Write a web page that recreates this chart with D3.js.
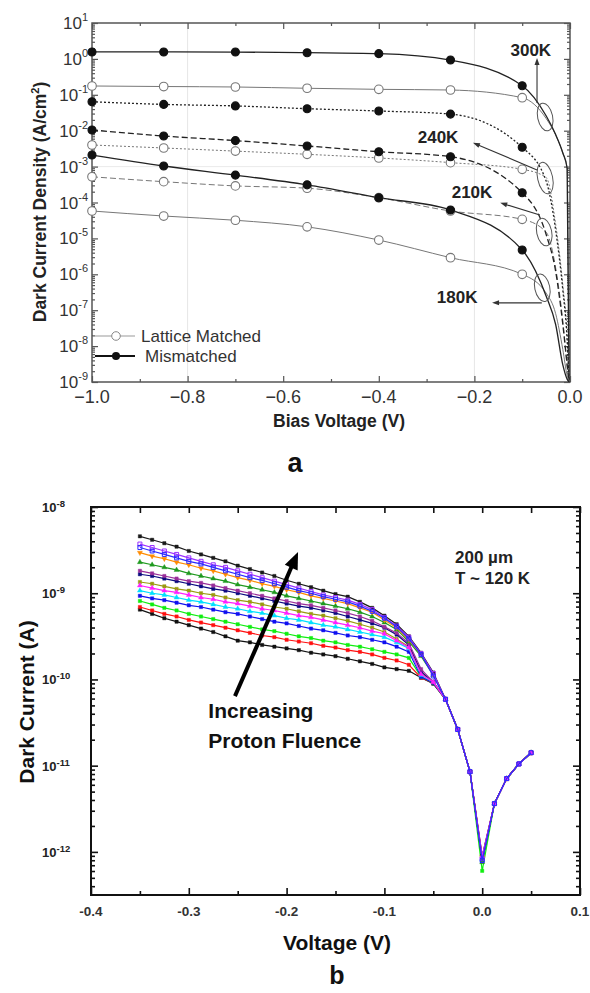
<!DOCTYPE html>
<html>
<head>
<meta charset="utf-8">
<script src="https://cdn.jsdelivr.net/npm/d3@7"></script>
<style>
  body { margin: 0; background: #fff; }
  svg { display: block; }
  text { font-family: Arial, "Liberation Sans", sans-serif; }
</style>
</head>
<body>
<div id="chart"></div>
<script>
// ---------------- panel a data ----------------
const biasMarks = [-1.0, -0.85, -0.7, -0.55, -0.4, -0.25, -0.1];
const biasTail = [-0.05, -0.03, -0.015, -0.006, -0.002];

const lm300 = [0.176, 0.170, 0.165, 0.152, 0.142, 0.136, 0.083];
const lm300Tail = [0.022, 0.0076, 0.0024, 9e-4, 1e-9];
const mm300 = [1.56, 1.56, 1.55, 1.49, 1.40, 0.93, 0.179];
const mm300Tail = [0.026, 0.0078, 0.0024, 9e-4, 1e-9];
const lm240 = [0.0040, 0.0033, 0.0027, 0.0022, 0.00174, 0.00129, 0.00084];
const lm240Tail = [5e-4, 2.5e-5, 5e-7, 2e-8, 1e-9];
const mm240 = [0.064, 0.054, 0.049, 0.041, 0.0354, 0.029, 0.00345];
const mm240Tail = [4e-4, 1.7e-5, 3.6e-7, 1.5e-8, 1e-9];
const lm210 = [5.2e-4, 3.8e-4, 2.9e-4, 2.5e-4, 1.36e-4, 5.8e-5, 3.4e-5];
const lm210Tail = [1.5e-5, 1.5e-6, 5e-8, 3e-9, 1e-9];
const mm210 = [0.0105, 0.0071, 0.0053, 0.00375, 0.0026, 0.00189, 1.87e-4];
const mm210Tail = [1.3e-5, 1.2e-6, 4e-8, 3e-9, 1e-9];
const lm180 = [5.8e-5, 4.2e-5, 3.2e-5, 2.1e-5, 9.0e-6, 2.9e-6, 1.0e-6];
const lm180Tail = [3e-7, 8e-8, 8e-9, 1.5e-9, 1e-9];
const mm180 = [0.0021, 0.00104, 5.8e-4, 3.1e-4, 1.36e-4, 6.2e-5, 4.75e-6];
const mm180Tail = [2.5e-7, 4e-8, 3e-9, 1.2e-9, 1e-9];

const tempLabels = ["300K", "240K", "210K", "180K"];
const tempLabelPos = [[-0.082, 1.77], [-0.276, 0.0067], [-0.205, 1.95e-4], [-0.236, 2.3e-7]];
const ellipsePos = [[-0.052, 0.024], [-0.052, 4.8e-4], [-0.054, 1.5e-5], [-0.058, 4.2e-7]];
const arrowFrom = [[-0.069, 0.059], [-0.069, 8.1e-4], [-0.063, 4.5e-5], [-0.059, 1.6e-7]];
const arrowTo = [[-0.069, 1.06], [-0.203, 0.0046], [-0.146, 9.8e-5], [-0.163, 1.6e-7]];
const decadesA = [1e-9, 1e-8, 1e-7, 1e-6, 1e-5, 1e-4, 1e-3, 1e-2, 1e-1, 1, 10];
const expA = ["-9", "-8", "-7", "-6", "-5", "-4", "-3", "-2", "-1", "0", "1"];
const xTicksA = [-1.0, -0.8, -0.6, -0.4, -0.2, 0.0];

// ---------------- panel b data (log10 of current, A) ----------------
const voltHead = [-0.35, -0.3375, -0.325, -0.3125, -0.3, -0.2875, -0.275, -0.2625, -0.25, -0.2375, -0.225, -0.2125,
  -0.2, -0.1875, -0.175, -0.1625, -0.15, -0.1375, -0.125, -0.1125, -0.1, -0.0875, -0.075, -0.0625, -0.05];
const s1 = [-8.34,-8.38,-8.42,-8.46,-8.51,-8.55,-8.59,-8.63,-8.68,-8.72,-8.76,-8.80,-8.85,-8.89,-8.93,-8.97,-9.01,-9.04,-9.10,-9.17,-9.26,-9.36,-9.50,-9.69,-9.92];
const s2 = [-8.43,-8.47,-8.51,-8.55,-8.59,-8.63,-8.67,-8.70,-8.74,-8.78,-8.82,-8.86,-8.90,-8.94,-8.98,-9.02,-9.05,-9.08,-9.13,-9.19,-9.28,-9.38,-9.51,-9.70,-9.93];
const s3 = [-8.47,-8.51,-8.55,-8.59,-8.63,-8.66,-8.70,-8.74,-8.78,-8.82,-8.85,-8.89,-8.93,-8.97,-9.00,-9.04,-9.07,-9.10,-9.15,-9.21,-9.29,-9.39,-9.53,-9.71,-9.96];
const s4 = [-8.53,-8.57,-8.60,-8.64,-8.67,-8.71,-8.74,-8.78,-8.82,-8.85,-8.89,-8.92,-8.96,-8.99,-9.03,-9.06,-9.09,-9.12,-9.17,-9.22,-9.31,-9.40,-9.54,-9.71,-9.94];
const s5 = [-8.64,-8.67,-8.70,-8.73,-8.77,-8.80,-8.83,-8.86,-8.90,-8.93,-8.96,-8.99,-9.03,-9.06,-9.09,-9.12,-9.15,-9.18,-9.22,-9.27,-9.34,-9.42,-9.56,-9.73,-9.95];
const s6 = [-8.74,-8.77,-8.80,-8.83,-8.86,-8.88,-8.91,-8.94,-8.97,-9.00,-9.03,-9.06,-9.09,-9.12,-9.14,-9.17,-9.20,-9.23,-9.27,-9.32,-9.39,-9.46,-9.58,-9.88,-10.03];
const s7 = [-8.78,-8.80,-8.83,-8.86,-8.89,-8.92,-8.95,-8.97,-9.00,-9.03,-9.06,-9.09,-9.12,-9.15,-9.17,-9.20,-9.23,-9.27,-9.31,-9.35,-9.40,-9.48,-9.60,-9.91,-10.03];
const s8 = [-8.87,-8.89,-8.92,-8.95,-8.97,-9.00,-9.02,-9.05,-9.08,-9.10,-9.13,-9.16,-9.18,-9.21,-9.24,-9.26,-9.29,-9.32,-9.36,-9.40,-9.45,-9.53,-9.62,-9.93,-10.03];
const s9 = [-8.91,-8.94,-8.97,-8.99,-9.02,-9.05,-9.07,-9.10,-9.12,-9.15,-9.18,-9.20,-9.23,-9.26,-9.28,-9.31,-9.34,-9.37,-9.40,-9.44,-9.47,-9.55,-9.63,-9.94,-10.03];
const s10 = [-8.97,-9.00,-9.02,-9.05,-9.08,-9.10,-9.13,-9.16,-9.18,-9.21,-9.23,-9.26,-9.29,-9.31,-9.34,-9.37,-9.39,-9.42,-9.45,-9.48,-9.51,-9.57,-9.64,-9.95,-10.03];
const s11 = [-9.03,-9.06,-9.08,-9.11,-9.14,-9.16,-9.19,-9.22,-9.24,-9.27,-9.30,-9.33,-9.35,-9.38,-9.41,-9.43,-9.46,-9.49,-9.51,-9.54,-9.57,-9.62,-9.68,-9.97,-10.04];
const s12 = [-9.09,-9.13,-9.17,-9.20,-9.24,-9.27,-9.30,-9.33,-9.36,-9.39,-9.42,-9.44,-9.47,-9.50,-9.52,-9.55,-9.57,-9.60,-9.62,-9.65,-9.68,-9.71,-9.75,-9.97,-10.04];
const s13 = [-9.16,-9.20,-9.24,-9.27,-9.31,-9.34,-9.37,-9.40,-9.43,-9.46,-9.49,-9.51,-9.54,-9.56,-9.58,-9.61,-9.63,-9.66,-9.68,-9.71,-9.75,-9.78,-9.83,-9.98,-10.04];
const s14 = [-9.19,-9.24,-9.29,-9.33,-9.37,-9.41,-9.45,-9.50,-9.55,-9.57,-9.60,-9.62,-9.64,-9.66,-9.69,-9.71,-9.73,-9.76,-9.79,-9.82,-9.86,-9.88,-9.90,-9.98,-10.05];
const voltTail = [-0.0375, -0.025, -0.0125, 0.0, 0.0125, 0.025, 0.0375, 0.05];
const tailLog = [-10.23, -10.58, -11.07, null, -11.44, -11.15, -10.98, -10.85];
const zeroLog = [-12.05, -12.08, -12.10, -12.06, -12.12, -12.08, -12.10, -12.07, -12.05, -12.09, -12.11, -12.22, -12.10, -12.08];
const decadesB = [1e-12, 1e-11, 1e-10, 1e-9, 1e-8];
const expB = ["-12", "-11", "-10", "-9", "-8"];
const xTicksB = [-0.4, -0.3, -0.2, -0.1, 0.0, 0.1];
const xLabelsB = ["-0.4", "-0.3", "-0.2", "-0.1", "0.0", "0.1"];
const fluenceArrow = [[-0.2528, 6.4e-11], [-0.1883, 3.0e-9]];

const fluenceColors = ["#1a1a1a", "#9b30ff", "#2b2bff", "#ff8c00", "#1f9a1f", "#9a2f9a", "#0a0a80",
  "#9a9a10", "#ff20ff", "#00e0ff", "#1010f0", "#10ee10", "#ff1010", "#111111"];
const fluenceMarkers = ["square", "open", "open", "triDown", "tri", "square", "square",
  "square", "tri", "tri", "square", "square", "square", "square"];
const drawOrder = [13, 12, 11, 10, 9, 7, 6, 5, 4, 3, 0, 8, 1, 2];

// ---------------- svg ----------------
const svg = d3.select("#chart").append("svg").attr("width", 590).attr("height", 993);
const defs = svg.append("defs");

function minorLog(lo, hi) {
  const t = [];
  for (let e = lo; e < hi; e++) for (let m = 2; m < 10; m++) t.push(m * Math.pow(10, e));
  return t;
}

function arrow(g, x1, y1, x2, y2, w, hl, hw, color) {
  const dx = x2 - x1, dy = y2 - y1, L = Math.hypot(dx, dy), ux = dx / L, uy = dy / L;
  g.append("line").attr("x1", x1).attr("y1", y1)
    .attr("x2", x2 - ux * hl * 0.8).attr("y2", y2 - uy * hl * 0.8)
    .attr("stroke", color).attr("stroke-width", w);
  const bx = x2 - ux * hl, by = y2 - uy * hl;
  g.append("path")
    .attr("d", `M${x2},${y2}L${bx - uy * hw / 2},${by + ux * hw / 2}L${bx + uy * hw / 2},${by - ux * hw / 2}Z`)
    .attr("fill", color);
}

// ================= PANEL A =================
const xa = d3.scaleLinear().domain([-1, 0]).range([92, 570]);
const ya = d3.scaleLog().domain([1e-9, 10]).range([382, 23]);
const ga = svg.append("g");

defs.append("clipPath").attr("id", "clipA").append("rect")
  .attr("x", 92).attr("y", 23).attr("width", 478).attr("height", 359);

// faint grid
ga.selectAll(".gv").data([-0.8, -0.2]).join("line")
  .attr("x1", d => xa(d)).attr("x2", d => xa(d)).attr("y1", 23).attr("y2", 382)
  .attr("stroke", "#e6e6e6").attr("stroke-width", 1);
ga.append("line").attr("x1", 92).attr("x2", 570).attr("y1", ya(1e-3)).attr("y2", ya(1e-3))
  .attr("stroke", "#eaeaea").attr("stroke-width", 1);

// axes
const axCol = "#555";
function styleAxis(sel) {
  sel.select(".domain").remove();
  sel.selectAll("line").attr("stroke", axCol).attr("stroke-width", 1.2);
}
ga.append("g").attr("transform", "translate(0,382)")
  .call(d3.axisBottom(xa).tickValues(xTicksA).tickSize(-6).tickFormat("")).call(styleAxis);
ga.append("g").attr("transform", "translate(0,382)")
  .call(d3.axisBottom(xa).tickValues([-0.9, -0.7, -0.5, -0.3, -0.1]).tickSize(-3).tickFormat("")).call(styleAxis);
ga.append("g").attr("transform", "translate(0,23)")
  .call(d3.axisTop(xa).tickValues(xTicksA).tickSize(-6).tickFormat("")).call(styleAxis);
ga.append("g").attr("transform", "translate(0,23)")
  .call(d3.axisTop(xa).tickValues([-0.9, -0.7, -0.5, -0.3, -0.1]).tickSize(-3).tickFormat("")).call(styleAxis);
ga.append("g").attr("transform", "translate(92,0)")
  .call(d3.axisLeft(ya).tickValues(decadesA).tickSize(-6).tickFormat("")).call(styleAxis);
ga.append("g").attr("transform", "translate(92,0)")
  .call(d3.axisLeft(ya).tickValues(minorLog(-9, 1)).tickSize(-3).tickFormat("")).call(styleAxis);
ga.append("g").attr("transform", "translate(570,0)")
  .call(d3.axisRight(ya).tickValues(decadesA).tickSize(-6).tickFormat("")).call(styleAxis);
ga.append("g").attr("transform", "translate(570,0)")
  .call(d3.axisRight(ya).tickValues(minorLog(-9, 1)).tickSize(-3).tickFormat("")).call(styleAxis);
ga.append("rect").attr("x", 92).attr("y", 23).attr("width", 478).attr("height", 359)
  .attr("fill", "none").attr("stroke", axCol).attr("stroke-width", 1.5);

// tick labels
decadesA.forEach((d, i) => {
  const t = ga.append("text").attr("x", 88).attr("y", ya(d) + 6)
    .attr("text-anchor", "end").attr("fill", "#333").attr("font-size", 17);
  t.append("tspan").text("10");
  t.append("tspan").attr("dy", -8).attr("font-size", 11).text(expA[i]);
});
ga.selectAll(".xl").data(xTicksA).join("text")
  .attr("x", d => xa(d)).attr("y", 403).attr("text-anchor", "middle")
  .attr("fill", "#333").attr("font-size", 18).text(d3.format(".1f"));

ga.append("text").attr("x", 339).attr("y", 427).attr("text-anchor", "middle")
  .attr("font-size", 17.5).attr("font-weight", "bold").attr("fill", "#222").text("Bias Voltage (V)");
const yl = ga.append("text").attr("transform", "translate(46,202) rotate(-90)").attr("text-anchor", "middle")
  .attr("font-size", 17.5).attr("font-weight", "bold").attr("fill", "#222");
yl.append("tspan").text("Dark Current Density (A/cm");
yl.append("tspan").attr("dy", -7).attr("font-size", 11).text("2");
yl.append("tspan").attr("dy", 7).text(")");
ga.append("text").attr("x", 295).attr("y", 472).attr("text-anchor", "middle")
  .attr("font-size", 27).attr("font-weight", "bold").attr("fill", "#111").text("a");

// series
const seriesA = [
  { temp: "300K", lattice: true, marks: lm300, tail: lm300Tail },
  { temp: "300K", lattice: false, marks: mm300, tail: mm300Tail },
  { temp: "240K", lattice: true, marks: lm240, tail: lm240Tail },
  { temp: "240K", lattice: false, marks: mm240, tail: mm240Tail },
  { temp: "210K", lattice: true, marks: lm210, tail: lm210Tail },
  { temp: "210K", lattice: false, marks: mm210, tail: mm210Tail },
  { temp: "180K", lattice: true, marks: lm180, tail: lm180Tail },
  { temp: "180K", lattice: false, marks: mm180, tail: mm180Tail }
];
const dashA = { "300K": null, "240K": "2,2", "210K": "6,3", "180K": null };
const lineA = d3.line().x(d => xa(d[0])).y(d => ya(d[1])).curve(d3.curveMonotoneX);
const linesA = ga.append("g").attr("clip-path", "url(#clipA)");
seriesA.forEach(s => {
  const pts = biasMarks.map((v, i) => [v, s.marks[i]]).concat(biasTail.map((v, i) => [v, s.tail[i]]));
  linesA.append("path").attr("d", lineA(pts)).attr("fill", "none")
    .attr("stroke", s.lattice ? "#777" : "#222")
    .attr("stroke-width", s.lattice ? 1 : 1.3)
    .attr("stroke-dasharray", dashA[s.temp]);
});
seriesA.forEach(s => {
  ga.selectAll(null).data(biasMarks.map((v, i) => [v, s.marks[i]])).join("circle")
    .attr("cx", d => xa(d[0])).attr("cy", d => ya(d[1])).attr("r", s.lattice ? 4.3 : 4)
    .attr("fill", s.lattice ? "#fff" : "#111")
    .attr("stroke", s.lattice ? "#777" : "#111").attr("stroke-width", 1.1);
});

// annotations
tempLabels.forEach((t, i) => {
  ga.append("text").attr("x", xa(tempLabelPos[i][0])).attr("y", ya(tempLabelPos[i][1]) + 6)
    .attr("text-anchor", "middle").attr("font-size", 17).attr("font-weight", "bold")
    .attr("fill", "#222").text(t);
  const cx = xa(ellipsePos[i][0]), cy = ya(ellipsePos[i][1]);
  ga.append("ellipse").attr("cx", cx).attr("cy", cy).attr("rx", 7.5).attr("ry", i === 1 ? 16 : 14)
    .attr("transform", `rotate(-12,${cx},${cy})`)
    .attr("fill", "none").attr("stroke", "#555").attr("stroke-width", 1);
  arrow(ga, xa(arrowFrom[i][0]), ya(arrowFrom[i][1]), xa(arrowTo[i][0]), ya(arrowTo[i][1]), 1.1, 7, 5, "#333");
});

// legend
const lg = ga.append("g");
lg.append("line").attr("x1", 93).attr("x2", 135).attr("y1", 336).attr("y2", 336).attr("stroke", "#999").attr("stroke-width", 1.1);
lg.append("circle").attr("cx", 116).attr("cy", 336).attr("r", 4.3).attr("fill", "#fff").attr("stroke", "#888");
lg.append("text").attr("x", 141).attr("y", 342).attr("font-size", 17).attr("fill", "#333").text("Lattice Matched");
lg.append("line").attr("x1", 95).attr("x2", 135).attr("y1", 356).attr("y2", 356).attr("stroke", "#111").attr("stroke-width", 2);
lg.append("circle").attr("cx", 116).attr("cy", 356).attr("r", 4).attr("fill", "#111");
lg.append("text").attr("x", 145).attr("y", 362).attr("font-size", 17).attr("fill", "#333").text("Mismatched");

// ================= PANEL B =================
const xb = d3.scaleLinear().domain([-0.4, 0.1]).range([91, 580]);
const yb = d3.scaleLog().domain([Math.pow(10, -12.5), 1e-8]).range([895, 507]);
const gb = svg.append("g");
defs.append("clipPath").attr("id", "clipB").append("rect")
  .attr("x", 91).attr("y", 507).attr("width", 489).attr("height", 388);

function styleAxisB(sel) {
  sel.select(".domain").remove();
  sel.selectAll("line").attr("stroke", "#111").attr("stroke-width", 1.6);
}
const minorXB = [-0.35, -0.25, -0.15, -0.05, 0.05];
gb.append("g").attr("transform", "translate(0,895)")
  .call(d3.axisBottom(xb).tickValues(xTicksB).tickSize(-7).tickFormat("")).call(styleAxisB);
gb.append("g").attr("transform", "translate(0,895)")
  .call(d3.axisBottom(xb).tickValues(minorXB).tickSize(-4).tickFormat("")).call(styleAxisB);
gb.append("g").attr("transform", "translate(0,507)")
  .call(d3.axisTop(xb).tickValues(xTicksB.concat(minorXB)).tickSize(-6).tickFormat("")).call(styleAxisB);
gb.append("g").attr("transform", "translate(91,0)")
  .call(d3.axisLeft(yb).tickValues(decadesB).tickSize(-7).tickFormat("")).call(styleAxisB);
gb.append("g").attr("transform", "translate(91,0)")
  .call(d3.axisLeft(yb).tickValues(minorLog(-13, -8).filter(v => v > Math.pow(10, -12.5))).tickSize(-4).tickFormat("")).call(styleAxisB);
gb.append("g").attr("transform", "translate(580,0)")
  .call(d3.axisRight(yb).tickValues(decadesB).tickSize(-7).tickFormat("")).call(styleAxisB);
gb.append("g").attr("transform", "translate(580,0)")
  .call(d3.axisRight(yb).tickValues(minorLog(-13, -8).filter(v => v > Math.pow(10, -12.5))).tickSize(-4).tickFormat("")).call(styleAxisB);
gb.append("rect").attr("x", 91).attr("y", 507).attr("width", 489).attr("height", 388)
  .attr("fill", "none").attr("stroke", "#111").attr("stroke-width", 2);

decadesB.forEach((d, i) => {
  const t = gb.append("text").attr("x", 42).attr("y", yb(d) + 5)
    .attr("font-size", 13).attr("font-weight", "bold").attr("fill", "#222");
  t.append("tspan").text("10");
  t.append("tspan").attr("dy", -5).attr("font-size", 9.5).text(expB[i]);
});
gb.selectAll(".xlb").data(xTicksB).join("text")
  .attr("x", d => xb(d)).attr("y", 916).attr("text-anchor", "middle")
  .attr("font-size", 13.5).attr("font-weight", "bold").attr("fill", "#333")
  .text((d, i) => xLabelsB[i]);
gb.append("text").attr("x", 337).attr("y", 950).attr("text-anchor", "middle")
  .attr("font-size", 21).attr("font-weight", "bold").attr("fill", "#111").text("Voltage (V)");
gb.append("text").attr("transform", "translate(34,702) rotate(-90)").attr("text-anchor", "middle")
  .attr("font-size", 21).attr("font-weight", "bold").attr("fill", "#111").text("Dark Current (A)");
gb.append("text").attr("x", 337).attr("y", 984).attr("text-anchor", "middle")
  .attr("font-size", 25).attr("font-weight", "bold").attr("fill", "#111").text("b");

// series
const heads = [s1, s2, s3, s4, s5, s6, s7, s8, s9, s10, s11, s12, s13, s14];
const fluence = heads.map((head, i) => ({
  color: fluenceColors[i],
  marker: fluenceMarkers[i],
  pts: head.map((lv, j) => [voltHead[j], Math.pow(10, lv)])
    .concat(voltTail.map((v, j) => [v, Math.pow(10, tailLog[j] === null ? zeroLog[i] : tailLog[j])]))
}));
const lineB = d3.line().x(d => xb(d[0])).y(d => yb(d[1]));
const symType = { square: d3.symbolSquare, open: d3.symbolSquare, tri: d3.symbolTriangle, triDown: d3.symbolTriangle };
const pb = gb.append("g").attr("clip-path", "url(#clipB)");
drawOrder.forEach(i => {
  const s = fluence[i];
  const g = pb.append("g");
  g.append("path").attr("d", lineB(s.pts)).attr("fill", "none")
    .attr("stroke", s.color).attr("stroke-width", 1.2);
  g.selectAll("path.m").data(s.pts).join("path").attr("class", "m")
    .attr("transform", d => `translate(${xb(d[0])},${yb(d[1])})` + (s.marker === "triDown" ? " rotate(180)" : ""))
    .attr("d", d3.symbol().type(symType[s.marker]).size(s.marker === "open" ? 16 : 11))
    .attr("fill", s.marker === "open" ? "none" : s.color)
    .attr("stroke", s.color).attr("stroke-width", s.marker === "open" ? 1 : 0.4);
});

// annotations
arrow(gb, xb(fluenceArrow[0][0]), yb(fluenceArrow[0][1]), xb(fluenceArrow[1][0]), yb(fluenceArrow[1][1]), 4, 17, 14, "#000");
gb.append("text").attr("x", xb(-0.280)).attr("y", yb(3.56e-11)).attr("font-size", 21)
  .attr("font-weight", "bold").attr("fill", "#111").text("Increasing");
gb.append("text").attr("x", xb(-0.280)).attr("y", yb(1.6e-11)).attr("font-size", 21)
  .attr("font-weight", "bold").attr("fill", "#111").text("Proton Fluence");
gb.append("text").attr("x", xb(-0.0278)).attr("y", yb(2.24e-9)).attr("font-size", 17)
  .attr("font-weight", "bold").attr("fill", "#222").text("200 µm");
gb.append("text").attr("x", xb(-0.0278)).attr("y", yb(1.28e-9)).attr("font-size", 17)
  .attr("font-weight", "bold").attr("fill", "#222").text("T ~ 120 K");
</script>
</body>
</html>
